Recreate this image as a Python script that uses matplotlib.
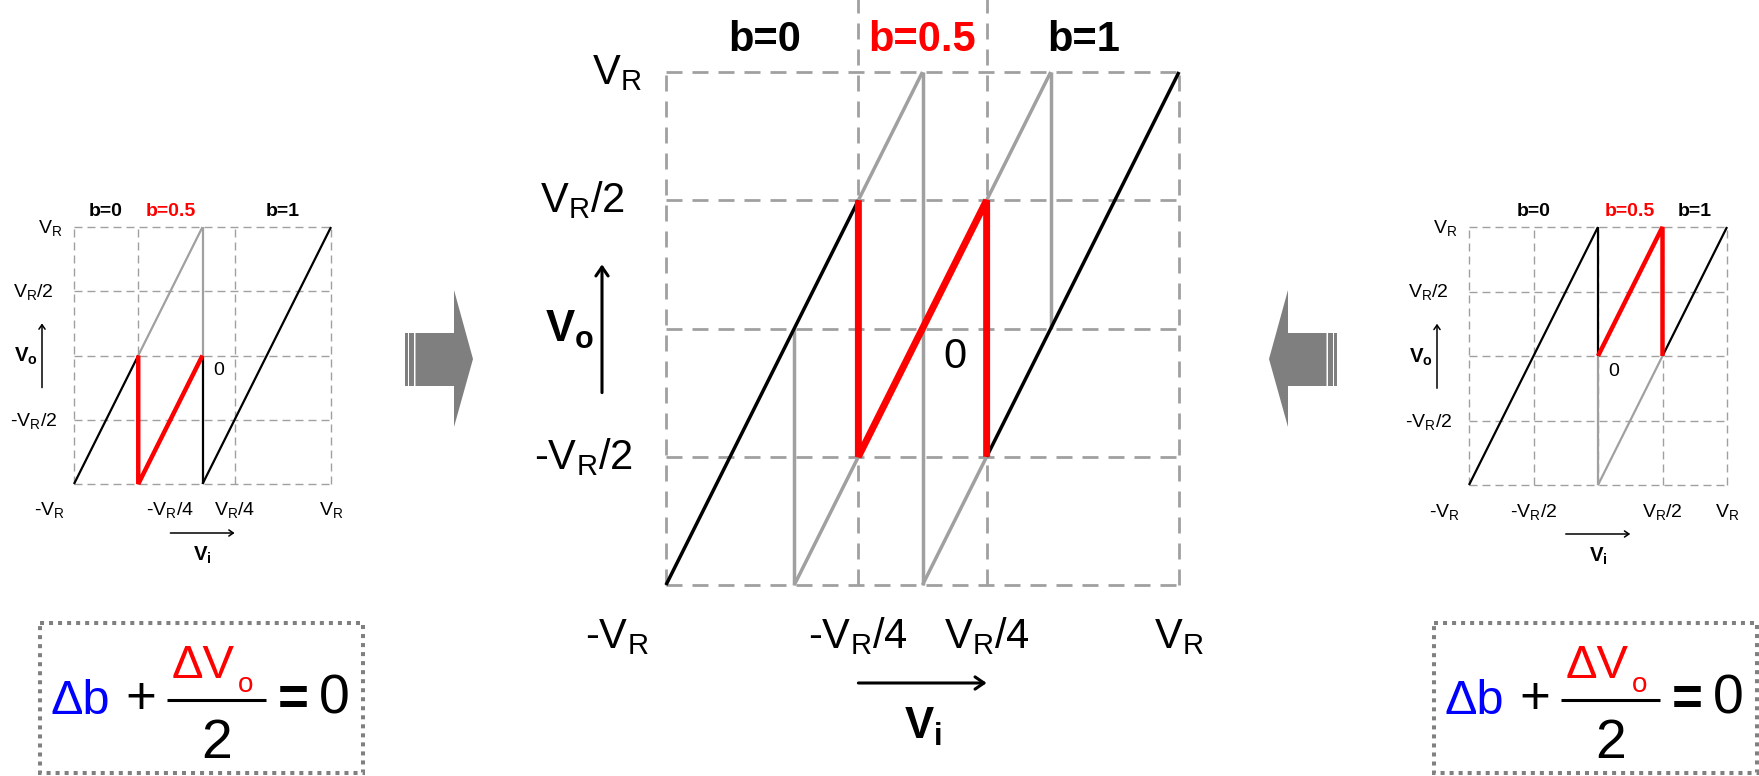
import matplotlib
matplotlib.use("Agg")
import matplotlib.pyplot as plt
from matplotlib.transforms import offset_copy
from matplotlib.patches import Polygon, Rectangle, FancyArrowPatch

plt.rcParams["font.family"] = ["Liberation Sans", "DejaVu Sans"]
plt.rcParams["mathtext.fontset"] = "custom"
plt.rcParams["mathtext.rm"] = "Liberation Sans"
plt.rcParams["mathtext.it"] = "Liberation Sans:italic"
plt.rcParams["mathtext.bf"] = "Liberation Sans:bold"
plt.rcParams["lines.scale_dashes"] = False

W, H = 1759, 776
fig = plt.figure(figsize=(W / 100, H / 100), dpi=100)

# ---- transfer characteristics, Vi and Vo normalised to V_R ----
# left: b=0.5 window placed on the negative side
left_black = [([-1, -0.5], [-1, 0]), ([0, 0], [0, -1]), ([0, 1], [-1, 1])]
left_gray = [([-0.5, 0], [0, 1]), ([0, 0], [1, 0])]
left_red = [([-0.5, -0.5, 0], [0, -1, 0])]
left_vgrid = [-1, -0.5, 0.25, 1]
left_xticks = [-1, -0.25, 0.25, 1]
left_xlabels = ["-$\\mathregular{V_R}$", "-$\\mathregular{V_R/4}$",
                "$\\mathregular{V_R/4}$", "$\\mathregular{V_R}$"]
left_bpos = [-0.75, -0.25, 0.625]

# centre: b=0.5 window centred on zero
center_black = [([-1, -0.25], [-1, 0.5]), ([0.25, 1], [-0.5, 1])]
center_gray = [([-0.25, 0], [0.5, 1]), ([0, 0], [1, -1]), ([0, 0.25], [-1, -0.5]),
               ([-0.5, -0.5], [0, -1]), ([-0.5, -0.25], [-1, -0.5]),
               ([0.25, 0.5], [0.5, 1]), ([0.5, 0.5], [1, 0])]
center_red = [([-0.25, -0.25, 0.25, 0.25], [0.5, -0.5, 0.5, -0.5])]
center_vgrid = [-1, -0.25, 0.25, 1]
center_xticks = [-1, -0.25, 0.25, 1]
center_xlabels = left_xlabels
center_bpos = [-0.615, 0.0, 0.63]

# right: b=0.5 window placed on the positive side
right_black = [([-1, 0], [-1, 1]), ([0, 0], [1, 0]), ([0.5, 1], [0, 1])]
right_gray = [([0, 0], [0, -1]), ([0, 0.5], [-1, 0])]
right_red = [([0, 0.5, 0.5], [0, 1, 0])]
right_vgrid = [-1, -0.5, 0, 0.5, 1]
right_xticks = [-1, -0.5, 0.5, 1]
right_xlabels = ["-$\\mathregular{V_R}$", "-$\\mathregular{V_R/2}$",
                 "$\\mathregular{V_R/2}$", "$\\mathregular{V_R}$"]
right_bpos = [-0.5, 0.25, 0.75]

hgrid = [1, 0.5, 0, -0.5, -1]
yticks = [1, 0.5, -0.5]
ylabels = ["$\\mathregular{V_R}$", "$\\mathregular{V_R/2}$", "-$\\mathregular{V_R/2}$"]
ylabel_dx = [-12, -20.5, -16.5]
blabels = ["b=0", "b=0.5", "b=1"]
bcolors = ["black", "red", "black"]

GRAY = "#a0a0a0"
RED = "#ff0000"


def make_axes(x0, y0, size):
    ax = fig.add_axes([x0 / W, 1 - (y0 + size) / H, size / W, size / H])
    ax.set_xlim(-1, 1)
    ax.set_ylim(-1, 1)
    ax.axis("off")
    ax.patch.set_alpha(0)
    return ax


def txt(ax, x, y, s, dx=0, dy=0, **kw):
    tr = offset_copy(ax.transData, fig=fig, x=dx, y=dy, units="dots")
    ax.text(x, y, s, transform=tr, **kw)


def draw_chart(ax, k, black, gray, red, vgrid, xticks, xlabels, bpos,
               fs, lw, vext=None):
    glw = 1.0 * k
    dash = (0, (8 * 0.72 * k, 5 * 0.72 * k))
    for y in hgrid:
        ax.plot([-1, 1], [y, y], color=GRAY, lw=glw, ls=dash, zorder=1,
                clip_on=False, dash_capstyle="butt")
    for x in vgrid:
        top = vext if (vext is not None and x in (-0.25, 0.25)) else 1
        ax.plot([x, x], [-1, top], color=GRAY, lw=glw, ls=dash, zorder=1,
                clip_on=False, dash_capstyle="butt")
    for xs, ys in gray:
        ax.plot(xs, ys, color=GRAY, lw=lw, zorder=2, clip_on=False,
                solid_capstyle="butt")
    for xs, ys in black:
        ax.plot(xs, ys, color="black", lw=lw, zorder=3, clip_on=False,
                solid_capstyle="butt")
    for xs, ys in red:
        ax.plot(xs, ys, color=RED, lw=lw * 2.0, zorder=4, clip_on=False,
                solid_capstyle="butt", solid_joinstyle="bevel")

    # tick labels
    for i, (x, s) in enumerate(zip(xticks, xlabels)):
        dx = -24.5 * k if i == 0 else 0
        txt(ax, x, -1, s, dx=dx, dy=-31.5 * k, ha="center", va="baseline",
            fontsize=fs)
    for y, s, dx in zip(yticks, ylabels, ylabel_dx):
        txt(ax, -1, y, s, dx=dx * k, dy=-6 * k, ha="right", va="baseline",
            fontsize=fs)
    # code labels
    for x, s, c in zip(bpos, blabels, bcolors):
        txt(ax, x, 1, s, dy=10.5 * k, ha="center", va="baseline",
            fontsize=fs, fontweight="bold", color=c)
    # origin label
    txt(ax, 0.125, -0.155, "0", ha="center", va="baseline", fontsize=fs)

    # axis arrows
    arr_lw = 1.1 * k
    style = f"->,head_length={3.2 * k},head_width={2.2 * k}"
    tr_y = offset_copy(ax.transData, fig=fig, x=-32 * k, y=0, units="dots")
    ax.add_patch(FancyArrowPatch((-1, -0.25), (-1, 0.25), transform=tr_y,
                                 arrowstyle=style, lw=arr_lw, color="black",
                                 shrinkA=0, shrinkB=0, clip_on=False,
                                 mutation_scale=1))
    txt(ax, -1, 0, "$\\mathbf{V}_\\mathbf{o}$", dx=-48 * k, dy=-6.5 * k,
        ha="center", va="baseline", fontsize=fs * 1.05)
    tr_x = offset_copy(ax.transData, fig=fig, x=0, y=-49 * k, units="dots")
    ax.add_patch(FancyArrowPatch((-0.25, -1), (0.25, -1), transform=tr_x,
                                 arrowstyle=style, lw=arr_lw, color="black",
                                 shrinkA=0, shrinkB=0, clip_on=False,
                                 mutation_scale=1))
    txt(ax, 0, -1, "$\\mathbf{V_i}$", dy=-77 * k, ha="center", va="baseline",
        fontsize=fs * 1.05)


# ---- background layer in pixel units: block arrows and equation boxes ----
bg = fig.add_axes([0, 0, 1, 1])
bg.set_xlim(0, W)
bg.set_ylim(H, 0)
bg.axis("off")

ARROW_GRAY = "#7f7f7f"


def block_arrow(direction):
    # outline of the right-pointing arrow; the left-pointing one is its mirror
    body = [(415.5, 333), (454, 333), (454, 290), (473, 359),
            (454, 427), (454, 386), (415.5, 386)]
    stripes = [(405, 3.3), (409.3, 4.7)]
    c = 871
    f = (lambda x: x) if direction > 0 else (lambda x: 2 * c - x)
    bg.add_patch(Polygon([(f(x), y) for x, y in body], closed=True,
                         facecolor=ARROW_GRAY, edgecolor="none"))
    for x0, w in stripes:
        xa, xb = f(x0), f(x0 + w)
        bg.add_patch(Rectangle((min(xa, xb), 333), abs(xb - xa), 53,
                               facecolor=ARROW_GRAY, edgecolor="none"))


block_arrow(1)
block_arrow(-1)


def equation(ox):
    bg.add_patch(Rectangle((40 + ox, 623), 323, 150, fill=False,
                           edgecolor="#808080", lw=2.9,
                           ls=(0, (2.9, 3.6)), capstyle="butt"))
    bg.text(51 + ox, 714, "\u0394b", color="#0000ff", fontsize=35,
            ha="left", va="baseline")
    bg.text(141 + ox, 714, "+", color="black", fontsize=38,
            ha="center", va="baseline")
    bg.plot([167 + ox, 266 + ox], [700, 700], color="black", lw=2.2,
            solid_capstyle="butt")
    bg.text(172 + ox, 678, "\u0394V", color=RED, fontsize=34,
            ha="left", va="baseline")
    bg.text(238 + ox, 692, "o", color=RED, fontsize=20,
            ha="left", va="baseline")
    bg.text(216.5 + ox, 758, "2", color="black", fontsize=40,
            ha="center", va="baseline")
    bg.text(293 + ox, 714, "=", color="black", fontsize=38,
            fontweight="bold", ha="center", va="baseline")
    bg.text(334 + ox, 714, "0", color="black", fontsize=40,
            ha="center", va="baseline")


equation(0)
equation(1394)

# ---- the three transfer plots ----
ax_l = make_axes(74, 227, 257)
draw_chart(ax_l, 1, left_black, left_gray, left_red, left_vgrid,
           left_xticks, left_xlabels, left_bpos, fs=14, lw=1.6)

ax_c = make_axes(666, 72, 513)
draw_chart(ax_c, 2, center_black, center_gray, center_red, center_vgrid,
           center_xticks, center_xlabels, center_bpos, fs=30, lw=2.5,
           vext=1.35)

ax_r = make_axes(1469, 227, 258)
draw_chart(ax_r, 1, right_black, right_gray, right_red, right_vgrid,
           right_xticks, right_xlabels, right_bpos, fs=14, lw=1.6)

fig.savefig("out.png", dpi=100)
